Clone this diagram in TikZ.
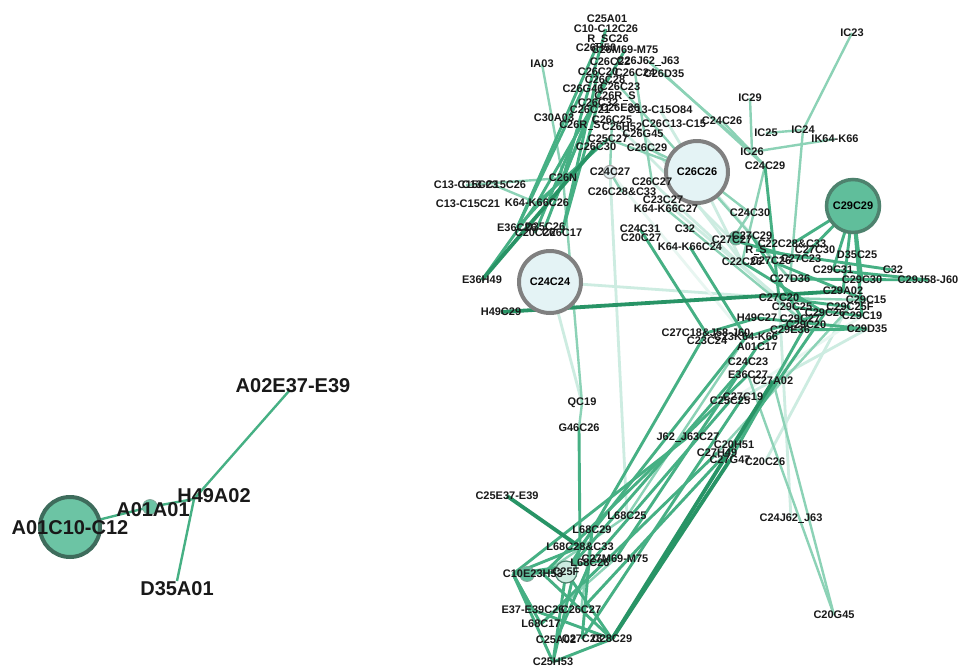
\documentclass[tikz,border=0pt]{standalone}
\usepackage{fontspec}
\setmainfont{Liberation Sans}
\usetikzlibrary{backgrounds}
\newcommand\usc{\kern0.02em\rule[-1.6pt]{0.5em}{1.1pt}\kern0.02em}
\definecolor{edk}{RGB}{40,148,102}
\definecolor{emd}{RGB}{70,176,132}
\definecolor{elt}{RGB}{140,210,182}
\definecolor{epl}{RGB}{205,236,225}
\definecolor{ewh}{RGB}{232,246,241}
\definecolor{palefill}{RGB}{228,243,245}
\definecolor{paleedge}{RGB}{128,128,128}
\definecolor{gfill}{RGB}{96,190,155}
\definecolor{gedge}{RGB}{78,130,110}
\definecolor{afill}{RGB}{108,196,164}
\definecolor{aedge}{RGB}{62,108,92}
\begin{document}
\begin{tikzpicture}[x=1pt,y=-1pt,
  lbl/.style={font=\fontsize{11}{11}\selectfont\bfseries, inner sep=0pt, text=black!90},
  lblL/.style={font=\fontsize{20}{20}\selectfont\bfseries, inner sep=0pt, text=black!90},
  bigpale/.style={circle, inner sep=0pt, fill=palefill, draw=paleedge, line width=4pt, font=\fontsize{11}{11}\selectfont\bfseries},
  biggreen/.style={circle, inner sep=0pt, fill=gfill, draw=gedge, line width=3.5pt, font=\fontsize{11}{11}\selectfont\bfseries},
  dot/.style={circle, inner sep=0pt, fill=gfill, draw=gedge!70, line width=0.8pt},
  pdot/.style={circle, inner sep=0pt, fill=palefill, draw=paleedge!70, line width=1.2pt},
  dk/.style={draw=edk, line width=3.8pt},
  md/.style={draw=emd, line width=2.9pt},
  lt/.style={draw=elt, line width=2.4pt},
  pl/.style={draw=epl, line width=2.8pt},
  wh/.style={draw=ewh, line width=2.8pt}]
\useasboundingbox (0,0) rectangle (962,670);
% ---------- left component ----------
\node[circle, inner sep=0pt, minimum size=60pt, fill=afill, draw=aedge, line width=4pt] (bigA) at (70,527) {};
\node[lblL] (bigAl) at (70,528) {A01C10-C12};
\node[dot, minimum size=15pt, fill=afill] (aa) at (150,507) {};
\node[lblL] (aal) at (153,510) {A01A01};
\coordinate (h49) at (194,499);
\node[lblL] (h49l) at (214,496) {H49A02};
\coordinate (a02) at (289,391);
\node[lblL] (a02l) at (293,386) {A02E37-E39};
\coordinate (d35) at (177,581);
\node[lblL] (d35l) at (177,589) {D35A01};
% ---------- big circles ----------
\node[bigpale, minimum size=62pt] (c26c26) at (697,172) {C26C26};
\node[bigpale, minimum size=62pt] (c24c24) at (550,282) {C24C24};
\node[biggreen, minimum size=53pt] (c29c29) at (853,206) {C29C29};
% ---------- small circles ----------
\node[pdot, minimum size=13pt] (c24c27d) at (610,172) {};
\node[dot, minimum size=14pt] (c27c27d) at (736,238) {};
\node[dot, minimum size=15pt] (c10d) at (527,574) {};
\node[pdot, minimum size=22pt, fill=epl, draw=gedge] (c25fd) at (566,572) {};
% ---------- top pile ----------
\node[lbl] (t1) at (607,19) {C25A01};
\node[lbl] (t2) at (606,29) {C10-C12C26};
\node[lbl] (t3) at (608,39) {R\usc SC26};
\node[lbl] (t4) at (596,48) {C26H50};
\node[lbl] (t5) at (625,50) {C26M69-M75};
\node[lbl] (t6) at (648,61) {C26J62\usc J63};
\node[lbl] (t7) at (610,62) {C26C22};
\node[lbl] (t8) at (598,72) {C26C20};
\node[lbl] (t9) at (635,73) {C26C24};
\node[lbl] (t10) at (664,74) {C26D35};
\node[lbl] (t11) at (605,80) {C26C28};
\node[lbl] (t12) at (620,87) {C26C23};
\node[lbl] (t13) at (583,89) {C26G46};
\node[lbl] (t14) at (615,96) {C26R\usc S};
\node[lbl] (t15) at (598,103) {C26C32};
\node[lbl] (t16) at (590,110) {C26C21};
\node[lbl] (t17b) at (620,108) {C26E36};
\node[lbl] (t17) at (660,110) {C13-C15O84};
\node[lbl] (t18) at (554,118) {C30A03};
\node[lbl] (t19) at (612,120) {C26C25};
\node[lbl] (t20) at (580,125) {C26R\usc S};
\node[lbl] (t21) at (622,127) {C26H52};
\node[lbl] (t22) at (674,124) {C26C13-C15};
\node[lbl] (t23) at (722,121) {C24C26};
\node[lbl] (t24) at (643,134) {C26G45};
\node[lbl] (t25) at (608,139) {C25C27};
\node[lbl] (t26) at (596,147) {C26C30};
\node[lbl] (t27) at (647,148) {C26C29};
\node[lbl] (ia03) at (542,64) {IA03};
% ---------- middle ----------
\node[lbl] (c13a) at (466,185) {C13-C15C23};
\node[lbl] (c13b) at (494,185) {C13-C15C26};
\node[lbl] (c13c) at (468,204) {C13-C15C21};
\node[lbl] (c26n) at (563,178) {C26N};
\node[lbl] (c24c27) at (610,172) {C24C27};
\node[lbl] (c26c27) at (652,182) {C26C27};
\node[lbl] (c26c28) at (622,192) {C26C28\&C33};
\node[lbl] (c23c27) at (663,200) {C23C27};
\node[lbl] (k64c26) at (537,203) {K64-K66C26};
\node[lbl] (k64c27) at (666,209) {K64-K66C27};
\node[lbl] (e36c26) at (517,228) {E36C26};
\node[lbl] (d35c26) at (545,227) {D35C26};
\node[lbl] (c20c26c) at (535,233) {C20C26};
\node[lbl] (c26c17) at (562,233) {C26C17};
\node[lbl] (e36h49) at (482,280) {E36H49};
\node[lbl] (c24c31) at (640,229) {C24C31};
\node[lbl] (c32a) at (685,229) {C32};
\node[lbl] (c20c27) at (641,238) {C20C27};
\node[lbl] (k64c24) at (690,247) {K64-K66C24};
\node[lbl] (c24c30) at (750,213) {C24C30};
\node[lbl] (ic23) at (852,33) {IC23};
\node[lbl] (ic29) at (750,98) {IC29};
\node[lbl] (ic25) at (766,133) {IC25};
\node[lbl] (ic24) at (803,130) {IC24};
\node[lbl] (ik64) at (835,139) {IK64-K66};
\node[lbl] (ic26) at (752,152) {IC26};
\node[lbl] (c24c29) at (765,166) {C24C29};
% ---------- right cluster ----------
\node[lbl] (c27c27) at (732,240) {C27C27};
\node[lbl] (c27c29) at (752,236) {C27C29};
\node[lbl] (r1) at (756,250) {R\usc S};
\node[lbl] (c22c28) at (792,244) {C22C28\&C33};
\node[lbl] (c27c30) at (815,250) {C27C30};
\node[lbl] (c22c26) at (742,262) {C22C26};
\node[lbl] (c27c26) at (771,261) {C27C26};
\node[lbl] (c27c23) at (801,259) {C27C23};
\node[lbl] (d35c25) at (857,255) {D35C25};
\node[lbl] (c29c31) at (833,270) {C29C31};
\node[lbl] (c32b) at (893,270) {C32};
\node[lbl] (c27d36) at (790,279) {C27D36};
\node[lbl] (c29c30) at (862,280) {C29C30};
\node[lbl] (c29j58) at (928,280) {C29J58-J60};
\node[lbl] (c29a02) at (843,291) {C29A02};
\node[lbl] (c29l5) at (866,300) {C29C15};
\node[lbl] (c27c20) at (779,298) {C27C20};
\node[lbl] (c29c2x) at (792,307) {C29C25};
\node[lbl] (c29f) at (850,307) {C29C25F};
\node[lbl] (c29c26) at (825,313) {C29C26};
\node[lbl] (h49c27) at (757,318) {H49C27};
\node[lbl] (c29c27) at (800,319) {C29C27};
\node[lbl] (c29c19) at (862,316) {C29C19};
\node[lbl] (c29c20) at (806,325) {C29C20};
\node[lbl] (c29e36) at (790,330) {C29E36};
\node[lbl] (c29d35) at (867,329) {C29D35};
\node[lbl] (h49c29) at (501,312) {H49C29};
\node[lbl] (c27c18) at (706,333) {C27C18\&J58-J60};
\node[lbl] (c23c24) at (707,341) {C23C24};
\node[lbl] (c23k64) at (746,337) {C23K64-K66};
\node[lbl] (a01c17) at (757,347) {A01C17};
\node[lbl] (c24c23) at (748,362) {C24C23};
\node[lbl] (e36c27) at (748,375) {E36C27};
\node[lbl] (c27a02) at (773,381) {C27A02};
\node[lbl] (c27c19) at (743,397) {C27C19};
\node[lbl] (c25c25) at (730,401) {C25C25};
\node[lbl] (j62c27) at (688,437) {J62\usc J63C27};
\node[lbl] (c20h51) at (734,445) {C20H51};
\node[lbl] (c27h49) at (717,453) {C27H49};
\node[lbl] (c27g47) at (730,460) {C27G47};
\node[lbl] (c20c26) at (765,462) {C20C26};
\node[lbl] (c24j62) at (791,518) {C24J62\usc J63};
\node[lbl] (c20g45) at (834,615) {C20G45};
\node[lbl] (qc19) at (582,403) {QC19};
\node[lbl] (g46c26) at (579,428) {G46C26};
% ---------- bottom cluster ----------
\node[lbl] (c25e37) at (507,496) {C25E37-E39};
\node[lbl] (l68c25) at (627,516) {L68C25};
\node[lbl] (l68c29) at (592,530) {L68C29};
\node[lbl] (l68c28) at (580,547) {L68C28\&C33};
\node[lbl] (c27m69) at (615,559) {C27M69-M75};
\node[lbl] (l68c26) at (590,563) {L68C26};
\node[lbl] (c10) at (513,574) {C10};
\node[lbl] (e23h53) at (543,574) {E23H53};
\node[lbl] (c25f) at (566,572) {C25F};
\node[lbl] (e37) at (533,610) {E37-E39C26};
\node[lbl] (c26c27b) at (581,610) {C26C27};
\node[lbl] (l68c17) at (541,624) {L68C17};
\node[lbl] (c25a) at (556,640) {C25A02};
\node[lbl] (c27c28) at (582,639) {C27C28};
\node[lbl] (c28c29) at (612,639) {C28C29};
\node[lbl] (c25h53) at (553,662) {C25H53};
% ---------- connectors ----------
\begin{scope}[on background layer]
\fill[white] (0,0) rectangle (962,670);
\draw[md, line width=2.4pt] (bigA.center) -- (aa.center) -- (h49) -- (a02);
\draw[md, line width=2.4pt] (h49) -- (d35);
% pale / white
\foreach \a/\b in {t19/c27c27, t24/c22c26, c24c27/l68c25, c24c24/qc19, c26c26/c27d36, c26c26/c22c26,
  c24c24/c27c20, c23c27/c27c20, c20c26/c29c30, c24j62/c27c20, c27c19/c29d35, c26c27/c29c27, t17/c26c26}
  \draw[pl] (\a.center) -- (\b.center);
\foreach \a/\b in {c24c27/c23k64, c25c25/c29c19}
  \draw[wh] (\a.center) -- (\b.center);
% light
\foreach \a/\b in {ia03/c26n, t25/c26c26, t27/c26c26, t19/c24c27, t6/ic26, t10/c24c29, t12/c27d36,
  c13b/k64c26, c13a/c26n, c24c27/c26c28, c26n/qc19, qc19/g46c26, c26c26/c24c30,
  k64c27/c29c27, c24c29/c22c26, ic23/ic24, ic24/c27d36, ic25/ic24, ic29/ic26, ic26/ik64,
  ic26/c24c29, ic26/t23, c24c30/c27c27, c29c29/d35c25, c27c20/c29l5, c29f/c27h49,
  c27a02/c20g45, e36c27/c20g45, l68c25/c23k64, l68c17/c27m69, c26c27b/l68c29, e23h53/l68c25, t9/c26c27}
  \draw[lt] (\a.center) -- (\b.center);
% medium
\foreach \a/\b in {t2/c26n, t5/k64c26, t8/c26c17, t13/e36c26, t16/d35c26, t20/c20c26c, t11/c26n,
  e36h49/k64c26, k64c26/t25, e36c26/c26n, t4/e36c26, t15/c26c17,
  g46c26/l68c28, c24c31/c27c18, k64c24/c23k64, c24c29/c27c20,
  c29c29/c29c31, c29c29/c27c23, c29c29/c29a02, c29c29/c29c19, c29c29/c22c28, c29c29/c29c30,
  c27d36/c29j58, c29c31/c29j58, c27c20/c29f, h49c27/c29d35, c29c2x/c29c19, c27c27/c27c23,
  c22c26/c29c26, c27c29/c29c20, c29e36/c29d35, a01c17/c29c27, c23k64/c29c26, c27c18/h49c27,
  c27c26/c29l5, r1/c32b,
  c27c18/l68c29, c23k64/l68c28, a01c17/c27m69, c24c23/c25f, e36c27/e23h53, c27c19/c27c28,
  c25c25/l68c26, j62c27/c10, c20h51/c26c27b, c27h49/l68c17, c29c20/c27g47, c29c26/c20h51,
  c10/c25f, c10/l68c28, c10/e37, c10/l68c17, c10/c25h53, e23h53/c28c29, c25f/c25h53, c25f/c28c29,
  l68c28/c25h53, l68c29/c25f, l68c29/c27c28, e37/c28c29, c25h53/c28c29, c27m69/c10, l68c26/c25a}
  \draw[md] (\a.center) -- (\b.center);
% dark
\foreach \a/\b in {h49c29/c29a02, c27a02/c28c29, c27g47/c28c29, c25e37/l68c28, t26/e36h49}
  \draw[dk] (\a.center) -- (\b.center);
\end{scope}
\end{tikzpicture}
\end{document}
